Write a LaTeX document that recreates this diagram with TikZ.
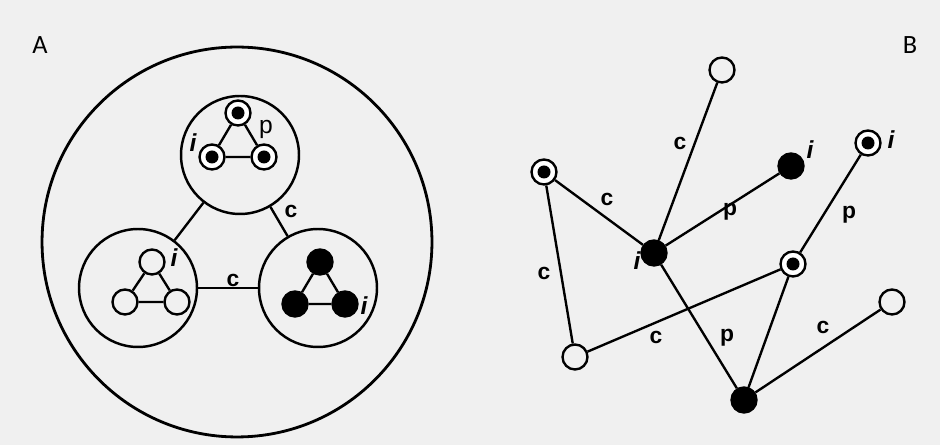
\documentclass[tikz,border=0pt]{standalone}
\usepackage{fontspec}
\setmainfont{Liberation Sans}
\newfontfamily\panelfont{Carlito}
\definecolor{paper}{gray}{0.94}
\tikzset{
  bond/.style={line width=1.35pt},
  site/.style={circle,draw,line width=1.35pt,inner sep=0pt,minimum size=0.5cm,fill=paper},
  open/.style={site},
  full/.style={site,fill=black},
  ring/.style={site,fill=white,path picture={\fill[black] (path picture bounding box.center) circle (0.13cm);}},
  group/.style={circle,draw,line width=1.4pt,inner sep=0pt,minimum size=2.36cm},
  lbl/.style={font=\fontsize{13}{15}\selectfont\bfseries},
  idx/.style={font=\fontsize{14}{16}\selectfont\bfseries\itshape},
  panel/.style={font=\panelfont\fontsize{15}{17}\selectfont},
}
\begin{document}
\begin{tikzpicture}[x=0.02cm,y=-0.02cm]
\fill[paper] (0,0) rectangle (940,445);
\node[panel] (pa) at (40,45) {A};
\node[panel] (pb) at (910,45) {B};
% panel A: three groups inside the cell
\node[group,minimum size=7.8cm,line width=1.6pt] (cell) at (237,242) {};
\node[group] (gtop) at (240,155) {};
\node[group] (gleft) at (138,288) {};
\node[group] (gright) at (318,288) {};
\draw[bond] (gtop) -- (gleft);
\draw[bond] (gtop) -- (gright);
\draw[bond] (gleft) -- (gright);
\node[lbl] (ctr) at (291,211) {c};
\node[lbl] (cmid) at (233,280) {c};
% top group
\node[ring] (t1) at (238,113) {};
\node[ring] (t2) at (212,157) {};
\node[ring] (t3) at (264,157) {};
\draw[bond] (t1) -- (t2) -- (t3) -- (t1);
\node[idx] (ti) at (193,143) {i};
\node[lbl,font=\fontsize{14}{16}\selectfont] (tp) at (266,129) {p};
% left group
\node[open] (l1) at (152,262) {};
\node[open] (l2) at (125,302) {};
\node[open] (l3) at (177,302) {};
\draw[bond] (l1) -- (l2) -- (l3) -- (l1);
\node[idx] (li) at (174,258) {i};
% right group
\node[full] (r1) at (320,262) {};
\node[full] (r2) at (295,304) {};
\node[full] (r3) at (345,304) {};
\draw[bond] (r1) -- (r2) -- (r3) -- (r1);
\node[idx] (ri) at (364,306) {i};
% panel B: network
\node[open] (n1) at (722,70) {};
\node[ring] (n2) at (544,172) {};
\node[full] (n3) at (654,253) {};
\node[full] (n4) at (791,166) {};
\node[ring] (n5) at (868,143) {};
\node[ring] (n6) at (793,264) {};
\node[open] (n7) at (892,302) {};
\node[open] (n8) at (575,357) {};
\node[full] (n9) at (744,400) {};
\draw[bond] (n1) -- (n3);
\draw[bond] (n2) -- (n3);
\draw[bond] (n3) -- (n4);
\draw[bond] (n2) -- (n8);
\draw[bond] (n8) -- (n6);
\draw[bond] (n3) -- (n9);
\draw[bond] (n6) -- (n5);
\draw[bond] (n6) -- (n9);
\draw[bond] (n9) -- (n7);
\node[lbl] (e13) at (680,143) {c};
\node[lbl] (e23) at (607,199) {c};
\node[lbl] (e34) at (730,212) {p};
\node[lbl] (e28) at (544,273) {c};
\node[lbl] (e86) at (656,337) {c};
\node[lbl] (e39) at (727,338) {p};
\node[lbl] (e65) at (849,215) {p};
\node[lbl] (e97) at (823,327) {c};
\node[idx] (i3) at (637,261) {i};
\node[idx] (i4) at (810,150) {i};
\node[idx] (i5) at (891,140) {i};
\end{tikzpicture}
\end{document}
